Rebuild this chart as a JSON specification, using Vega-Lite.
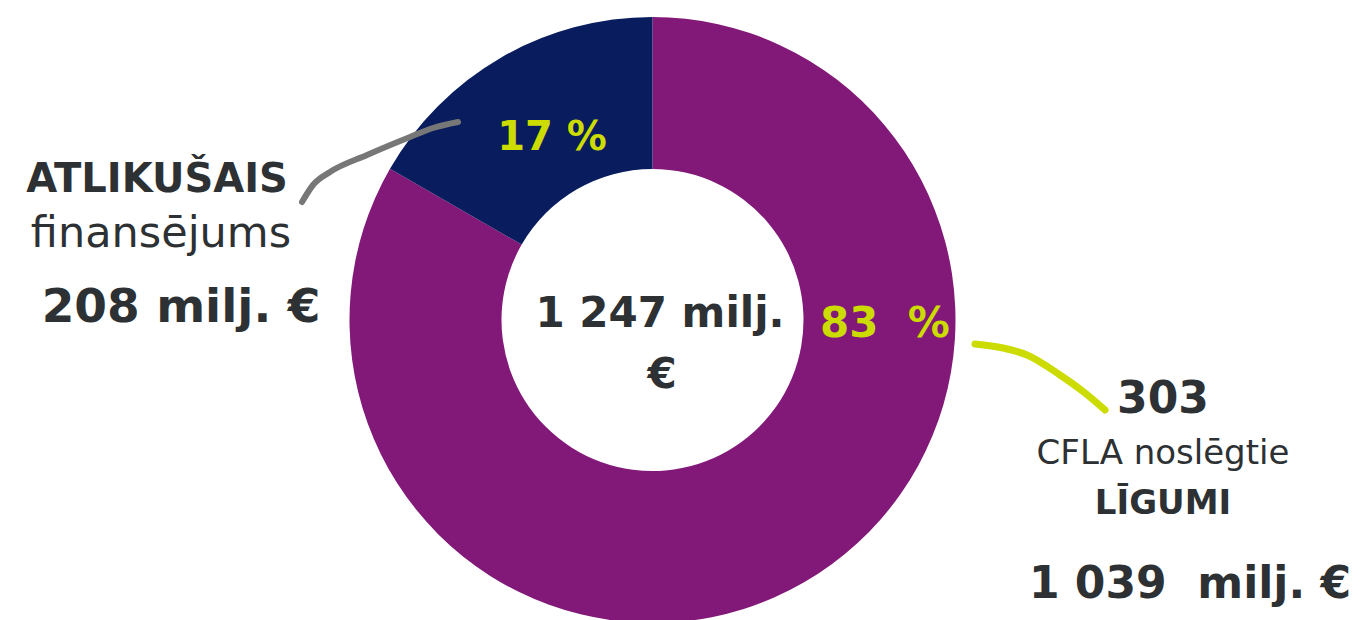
{
  "$schema": "https://vega.github.io/schema/vega-lite/v6.json",
  "width": 1305,
  "height": 600,
  "padding": {"left": 0, "top": 20, "right": 56, "bottom": 0},
  "autosize": {"type": "none"},
  "background": "#ffffff",
  "config": {"view": {"stroke": null}},
  "datasets": {
    "slices": [
      {"category": "CFLA noslēgtie līgumi", "value": 1039, "ord": 1},
      {"category": "Atlikušais finansējums", "value": 208, "ord": 2}
    ],
    "labels": [
      {"role": "b40", "text": "ATLIKUŠAIS", "x": -495.5, "y": 128},
      {"role": "r43", "text": "finansējums", "x": -491.5, "y": 73},
      {"role": "b47", "text": "208 milj. €", "x": -471.5, "y": -2},
      {"role": "g40", "text": "17 %", "x": -100.5, "y": 170},
      {"role": "b42", "text": "1 247 milj.", "x": 7.5, "y": -7},
      {"role": "b42", "text": "€", "x": 9.5, "y": -68},
      {"role": "g42", "text": "83\u00a0 %", "x": 232.5, "y": -17},
      {"role": "b44", "text": "303", "x": 510.5, "y": -93},
      {"role": "r34", "text": "CFLA noslēgtie", "x": 510.5, "y": -144},
      {"role": "b34", "text": "LĪGUMI", "x": 510.5, "y": -194},
      {"role": "b44", "text": "1 039\u00a0 milj. €", "x": 537.5, "y": -278}
    ],
    "connectors": [
      {"line": "gray", "ord": 1, "x": -350.5, "y": 118},
      {"line": "gray", "ord": 2, "x": -339.5, "y": 135},
      {"line": "gray", "ord": 3, "x": -322.5, "y": 148},
      {"line": "gray", "ord": 4, "x": -285.5, "y": 165},
      {"line": "gray", "ord": 5, "x": -242.5, "y": 183},
      {"line": "gray", "ord": 6, "x": -219.5, "y": 192},
      {"line": "gray", "ord": 7, "x": -194.5, "y": 198},
      {"line": "green", "ord": 1, "x": 322.5, "y": -24},
      {"line": "green", "ord": 2, "x": 350.5, "y": -28},
      {"line": "green", "ord": 3, "x": 374.5, "y": -35},
      {"line": "green", "ord": 4, "x": 407.5, "y": -55},
      {"line": "green", "ord": 5, "x": 432.5, "y": -73},
      {"line": "green", "ord": 6, "x": 452.5, "y": -90}
    ]
  },
  "layer": [
    {
      "data": {"name": "slices"},
      "mark": {"type": "arc", "outerRadius": 303, "innerRadius": 151, "stroke": null},
      "encoding": {
        "theta": {"field": "value", "type": "quantitative", "stack": true},
        "order": {"field": "ord", "type": "quantitative"},
        "color": {
          "field": "category", "type": "nominal", "legend": null,
          "scale": {"domain": ["CFLA noslēgtie līgumi", "Atlikušais finansējums"], "range": ["#821878", "#081C5E"]}
        }
      }
    },
    {
      "data": {"name": "connectors"},
      "transform": [{"filter": "datum.line === 'gray'"}],
      "mark": {"type": "line", "color": "#777777", "strokeWidth": 6, "strokeCap": "round", "interpolate": "monotone"},
      "encoding": {
        "x": {"field": "x", "type": "quantitative", "axis": null, "scale": {"domain": [-652.5, 652.5], "nice": false, "zero": false}},
        "y": {"field": "y", "type": "quantitative", "axis": null, "scale": {"domain": [-300, 300], "nice": false, "zero": false}},
        "order": {"field": "ord", "type": "quantitative"}
      }
    },
    {
      "data": {"name": "connectors"},
      "transform": [{"filter": "datum.line === 'green'"}],
      "mark": {"type": "line", "color": "#CCDB00", "strokeWidth": 7, "strokeCap": "round", "interpolate": "monotone"},
      "encoding": {
        "x": {"field": "x", "type": "quantitative", "axis": null, "scale": {"domain": [-652.5, 652.5], "nice": false, "zero": false}},
        "y": {"field": "y", "type": "quantitative", "axis": null, "scale": {"domain": [-300, 300], "nice": false, "zero": false}},
        "order": {"field": "ord", "type": "quantitative"}
      }
    },
    {
      "data": {"name": "labels"},
      "transform": [{"filter": "datum.role === 'b40'"}],
      "mark": {"type": "text", "font": "DejaVu Sans", "fontWeight": "bold", "fontSize": 40, "color": "#2D3133", "align": "center", "baseline": "alphabetic"},
      "encoding": {
        "x": {"field": "x", "type": "quantitative", "axis": null, "scale": {"domain": [-652.5, 652.5], "nice": false, "zero": false}},
        "y": {"field": "y", "type": "quantitative", "axis": null, "scale": {"domain": [-300, 300], "nice": false, "zero": false}},
        "text": {"field": "text"}
      }
    },
    {
      "data": {"name": "labels"},
      "transform": [{"filter": "datum.role === 'r43'"}],
      "mark": {"type": "text", "font": "DejaVu Sans", "fontWeight": "normal", "fontSize": 43, "color": "#2D3133", "align": "center", "baseline": "alphabetic"},
      "encoding": {
        "x": {"field": "x", "type": "quantitative", "axis": null, "scale": {"domain": [-652.5, 652.5], "nice": false, "zero": false}},
        "y": {"field": "y", "type": "quantitative", "axis": null, "scale": {"domain": [-300, 300], "nice": false, "zero": false}},
        "text": {"field": "text"}
      }
    },
    {
      "data": {"name": "labels"},
      "transform": [{"filter": "datum.role === 'b47'"}],
      "mark": {"type": "text", "font": "DejaVu Sans", "fontWeight": "bold", "fontSize": 47, "color": "#2D3133", "align": "center", "baseline": "alphabetic"},
      "encoding": {
        "x": {"field": "x", "type": "quantitative", "axis": null, "scale": {"domain": [-652.5, 652.5], "nice": false, "zero": false}},
        "y": {"field": "y", "type": "quantitative", "axis": null, "scale": {"domain": [-300, 300], "nice": false, "zero": false}},
        "text": {"field": "text"}
      }
    },
    {
      "data": {"name": "labels"},
      "transform": [{"filter": "datum.role === 'g40'"}],
      "mark": {"type": "text", "font": "DejaVu Sans", "fontWeight": "bold", "fontSize": 40, "color": "#CCDB00", "align": "center", "baseline": "alphabetic"},
      "encoding": {
        "x": {"field": "x", "type": "quantitative", "axis": null, "scale": {"domain": [-652.5, 652.5], "nice": false, "zero": false}},
        "y": {"field": "y", "type": "quantitative", "axis": null, "scale": {"domain": [-300, 300], "nice": false, "zero": false}},
        "text": {"field": "text"}
      }
    },
    {
      "data": {"name": "labels"},
      "transform": [{"filter": "datum.role === 'b42'"}],
      "mark": {"type": "text", "font": "DejaVu Sans", "fontWeight": "bold", "fontSize": 42, "color": "#2D3133", "align": "center", "baseline": "alphabetic"},
      "encoding": {
        "x": {"field": "x", "type": "quantitative", "axis": null, "scale": {"domain": [-652.5, 652.5], "nice": false, "zero": false}},
        "y": {"field": "y", "type": "quantitative", "axis": null, "scale": {"domain": [-300, 300], "nice": false, "zero": false}},
        "text": {"field": "text"}
      }
    },
    {
      "data": {"name": "labels"},
      "transform": [{"filter": "datum.role === 'g42'"}],
      "mark": {"type": "text", "font": "DejaVu Sans", "fontWeight": "bold", "fontSize": 42, "color": "#CCDB00", "align": "center", "baseline": "alphabetic"},
      "encoding": {
        "x": {"field": "x", "type": "quantitative", "axis": null, "scale": {"domain": [-652.5, 652.5], "nice": false, "zero": false}},
        "y": {"field": "y", "type": "quantitative", "axis": null, "scale": {"domain": [-300, 300], "nice": false, "zero": false}},
        "text": {"field": "text"}
      }
    },
    {
      "data": {"name": "labels"},
      "transform": [{"filter": "datum.role === 'b44'"}],
      "mark": {"type": "text", "font": "DejaVu Sans", "fontWeight": "bold", "fontSize": 44, "color": "#2D3133", "align": "center", "baseline": "alphabetic"},
      "encoding": {
        "x": {"field": "x", "type": "quantitative", "axis": null, "scale": {"domain": [-652.5, 652.5], "nice": false, "zero": false}},
        "y": {"field": "y", "type": "quantitative", "axis": null, "scale": {"domain": [-300, 300], "nice": false, "zero": false}},
        "text": {"field": "text"}
      }
    },
    {
      "data": {"name": "labels"},
      "transform": [{"filter": "datum.role === 'r34'"}],
      "mark": {"type": "text", "font": "DejaVu Sans", "fontWeight": "normal", "fontSize": 34, "color": "#2D3133", "align": "center", "baseline": "alphabetic"},
      "encoding": {
        "x": {"field": "x", "type": "quantitative", "axis": null, "scale": {"domain": [-652.5, 652.5], "nice": false, "zero": false}},
        "y": {"field": "y", "type": "quantitative", "axis": null, "scale": {"domain": [-300, 300], "nice": false, "zero": false}},
        "text": {"field": "text"}
      }
    },
    {
      "data": {"name": "labels"},
      "transform": [{"filter": "datum.role === 'b34'"}],
      "mark": {"type": "text", "font": "DejaVu Sans", "fontWeight": "bold", "fontSize": 34, "color": "#2D3133", "align": "center", "baseline": "alphabetic"},
      "encoding": {
        "x": {"field": "x", "type": "quantitative", "axis": null, "scale": {"domain": [-652.5, 652.5], "nice": false, "zero": false}},
        "y": {"field": "y", "type": "quantitative", "axis": null, "scale": {"domain": [-300, 300], "nice": false, "zero": false}},
        "text": {"field": "text"}
      }
    }
  ]
}
